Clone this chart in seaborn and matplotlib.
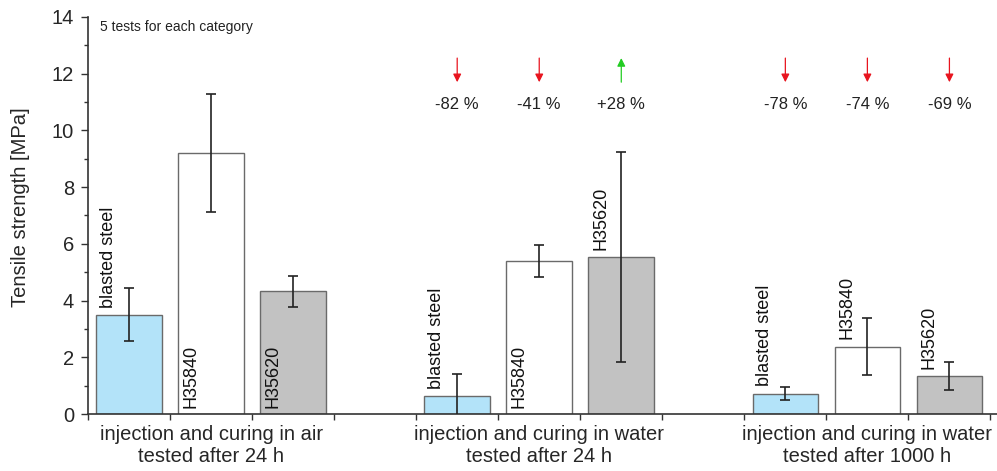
import numpy as np
import pandas as pd
import matplotlib
matplotlib.use("Agg")
import matplotlib.pyplot as plt
import seaborn as sns

# Tensile strength data
groups = ['injection and curing in air\ntested after 24 h',
          'injection and curing in water\ntested after 24 h',
          'injection and curing in water\ntested after 1000 h']
materials = ['blasted steel', 'H35840', 'H35620']
positions = [0.5, 1.5, 2.5, 4.5, 5.5, 6.5, 8.5, 9.5, 10.5]
means = [3.5, 9.2, 4.33, 0.62, 5.4, 5.55, 0.72, 2.38, 1.33]
errs = [0.93, 2.08, 0.55, 0.78, 0.57, 3.7, 0.23, 1.0, 0.5]
label_inside = [False, True, True, False, True, False, False, False, False]
changes = ['-82 %', '-41 %', '+28 %', '-78 %', '-74 %', '-69 %']

sns.set_theme(style="ticks")
plt.rcParams['font.family'] = ['Liberation Sans', 'DejaVu Sans']

df = pd.DataFrame({
    'pos': positions,
    'strength': means,
    'material': materials * len(groups),
})

colors = {'blasted steel': '#b3e3f9', 'H35840': '#ffffff', 'H35620': '#c2c2c2'}

fig = plt.figure(figsize=(9.97, 4.71), dpi=100)
ax = fig.add_axes([0.0883, 0.121, 0.9117, 0.843])

sns.barplot(data=df, x='pos', y='strength', hue='material', palette=colors,
            native_scale=True, dodge=False, width=0.8, errorbar=None,
            saturation=1, edgecolor='#6a6a6a', linewidth=1.0, legend=False, ax=ax)
ax.errorbar(positions, means, yerr=errs, fmt='none', ecolor='#222222',
            elinewidth=1.2, capsize=3.5, capthick=1.2, zorder=5)

# rotated material labels
for x, m, mat, inside in zip(positions, means, df['material'], label_inside):
    y = 0.2 if inside else m + 0.25
    ax.text(x - 0.25, y, mat, rotation=90, ha='center', va='bottom',
            fontsize=13, color='#111111')

# change arrows for the water-cured groups
for x, txt in zip(positions[3:], changes):
    up = txt.startswith('+')
    start, end = (11.7, 12.55) if up else (12.55, 11.7)
    ax.annotate('', xy=(x, end), xytext=(x, start),
                arrowprops=dict(arrowstyle='-|>', color='#22cc22' if up else '#e8141e',
                                lw=0.9, mutation_scale=12, shrinkA=0, shrinkB=0))
    ax.text(x, 10.9, txt, ha='center', va='center', fontsize=12, color='#222222')

ax.text(0.15, 13.65, '5 tests for each category', fontsize=10, va='center',
        color='#222222')

ax.set_xlim(0, 11.08)
ax.set_ylim(0, 14)
ax.set_yticks(np.arange(0, 15, 2))
ax.set_yticks(np.arange(1, 14, 2), minor=True)
ax.set_xticks(np.arange(0, 12, 1))
ax.set_xticklabels([])
ax.set_xticks([1.5, 5.5, 9.5], minor=True)
ax.set_xticklabels(groups, minor=True)
ax.tick_params(axis='x', which='minor', length=0, pad=8, labelsize=14.5)
ax.tick_params(axis='x', which='major', length=4, width=1, color='#333333')
ax.tick_params(axis='y', which='major', length=5, width=1, labelsize=14.5,
               color='#333333', pad=5)
ax.tick_params(axis='y', which='minor', length=3, width=1, color='#333333')
for lab in ax.get_xticklabels(minor=True):
    lab.set_linespacing(1.2)
ax.set_xlabel('')
ax.set_ylabel('Tensile strength [MPa]', fontsize=14.5)
ax.yaxis.set_label_coords(-0.064, 0.52)
sns.despine(ax=ax)
for s in ['left', 'bottom']:
    ax.spines[s].set_color('#333333')
    ax.spines[s].set_linewidth(1.2)

fig.savefig('out.png', dpi=100)
